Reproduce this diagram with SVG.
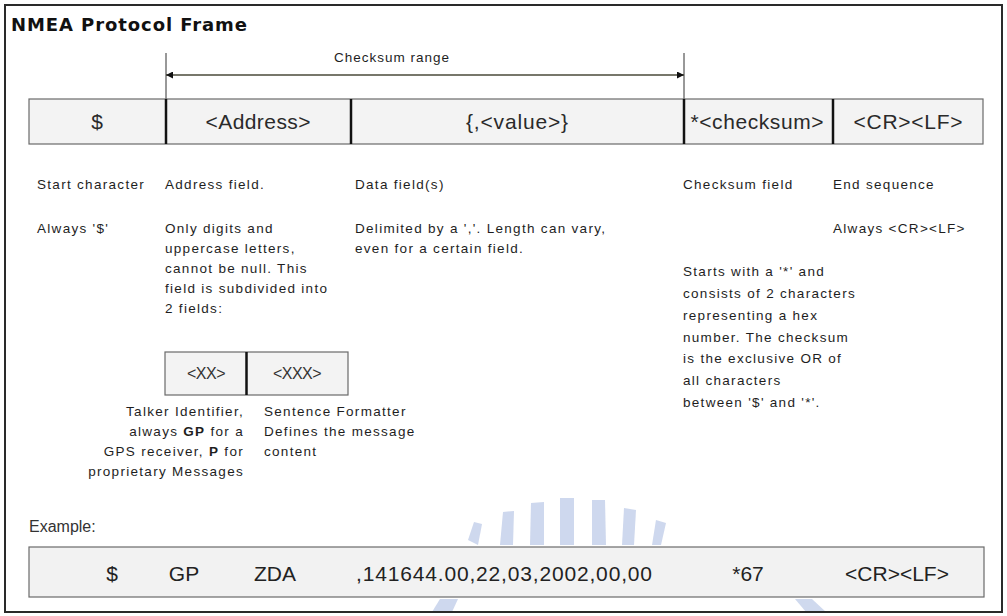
<svg xmlns="http://www.w3.org/2000/svg" width="1007" height="616" viewBox="0 0 1007 616">
  <defs>
    <style>
      .t { font-family: "Liberation Sans", Arial, sans-serif; fill: #1e1e1e; }
      .title { font-family: "DejaVu Sans", Verdana, sans-serif; font-size: 18px; font-weight: bold; fill: #111; }
      .cell { font-size: 21px; fill: #2a2a2a; }
      .desc { font-size: 13.5px; letter-spacing: 1.3px; }
      .ex { font-size: 21px; fill: #222; }
      .box { fill: #f3f3f3; stroke: #6a6a6a; stroke-width: 1.2; }
      .div { stroke: #111; stroke-width: 2.5; }
      .thin { stroke: #333; stroke-width: 1; fill: none; }
      .wm { fill: #c3cfea; }
    </style>
    <marker id="ah" viewBox="0 0 10 10" refX="10" refY="5" markerWidth="10" markerHeight="7" markerUnits="userSpaceOnUse" orient="auto-start-reverse">
      <path d="M0,0 L10,5 L0,10 z" fill="#111"/>
    </marker>
  </defs>

  <rect x="0" y="0" width="1007" height="616" fill="#ffffff"/>

  <!-- faint watermark -->
  <g id="watermark" opacity="0.8">
    <polygon class="wm" points="468,540 474,522 482,524 478,545"/>
    <polygon class="wm" points="500,545 503,512 514,511 513,545"/>
    <polygon class="wm" points="530,545 531,503 544,502 544,545"/>
    <polygon class="wm" points="560,545 560,498 574,498 574,545"/>
    <polygon class="wm" points="592,545 592,500 605,500 606,545"/>
    <polygon class="wm" points="622,545 624,508 636,510 634,545"/>
    <polygon class="wm" points="652,545 656,520 666,523 661,545"/>
    <polygon class="wm" points="440,599 458,599 452,612 432,612"/>
    <polygon class="wm" points="795,599 812,599 826,612 806,612"/>
  </g>

  <!-- outer frame -->
  <rect id="frame" x="5" y="5" width="997" height="607" fill="none" stroke="#2a2a2a" stroke-width="2"/>

  <g id="title">
    <text class="title" x="11" y="31" textLength="236">NMEA Protocol Frame</text>
  </g>

  <!-- connectors: checksum range -->
  <g id="connectors">
    <line class="thin" x1="166" y1="53" x2="166" y2="99"/>
    <line class="thin" x1="684" y1="53" x2="684" y2="99"/>
    <line x1="166" y1="75" x2="684" y2="75" stroke="#4a4a3a" stroke-width="1.6" marker-start="url(#ah)" marker-end="url(#ah)"/>
  </g>
  <g id="checksum-range-label">
    <text class="t desc" x="392" y="62" text-anchor="middle" style="letter-spacing:1px">Checksum range</text>
  </g>

  <!-- frame fields -->
  <g id="frame-row">
    <rect class="box" x="29" y="99" width="954" height="45"/>
    <line class="div" x1="166" y1="99" x2="166" y2="144"/>
    <line class="div" x1="351" y1="99" x2="351" y2="144"/>
    <line class="div" x1="684" y1="99" x2="684" y2="144"/>
    <line class="div" x1="833" y1="99" x2="833" y2="144"/>
  </g>
  <g id="field-start"><text class="t cell" x="97" y="129" text-anchor="middle">$</text></g>
  <g id="field-address"><text class="t cell" x="258" y="129" text-anchor="middle" textLength="105">&lt;Address&gt;</text></g>
  <g id="field-data"><text class="t cell" x="517" y="129" text-anchor="middle" textLength="102">{,&lt;value&gt;}</text></g>
  <g id="field-checksum"><text class="t cell" x="757" y="129" text-anchor="middle" textLength="133">*&lt;checksum&gt;</text></g>
  <g id="field-end"><text class="t cell" x="908" y="129" text-anchor="middle" textLength="109">&lt;CR&gt;&lt;LF&gt;</text></g>

  <!-- descriptions -->
  <g id="desc-start">
    <text class="t desc" x="37" y="189">Start character</text>
    <text class="t desc" x="37" y="233">Always '$'</text>
  </g>
  <g id="desc-address">
    <text class="t desc" x="165" y="189">Address field.</text>
    <text class="t desc" x="165" y="233">Only digits and</text>
    <text class="t desc" x="165" y="253">uppercase letters,</text>
    <text class="t desc" x="165" y="273">cannot be null. This</text>
    <text class="t desc" x="165" y="293">field is subdivided into</text>
    <text class="t desc" x="165" y="313">2 fields:</text>
  </g>
  <g id="desc-data">
    <text class="t desc" x="355" y="189">Data field(s)</text>
    <text class="t desc" x="355" y="233">Delimited by a ','. Length can vary,</text>
    <text class="t desc" x="355" y="253">even for a certain field.</text>
  </g>
  <g id="desc-checksum">
    <text class="t desc" x="683" y="189">Checksum field</text>
    <text class="t desc" x="683" y="276">Starts with a '*' and</text>
    <text class="t desc" x="683" y="298">consists of 2 characters</text>
    <text class="t desc" x="683" y="320">representing a hex</text>
    <text class="t desc" x="683" y="342">number. The checksum</text>
    <text class="t desc" x="683" y="363">is the exclusive OR of</text>
    <text class="t desc" x="683" y="385">all characters</text>
    <text class="t desc" x="683" y="407">between '$' and '*'.</text>
  </g>
  <g id="desc-end">
    <text class="t desc" x="833" y="189">End sequence</text>
    <text class="t desc" x="833" y="233">Always &lt;CR&gt;&lt;LF&gt;</text>
  </g>

  <!-- address subfields -->
  <g id="sub-fields">
    <rect class="box" x="165" y="352" width="183" height="43"/>
    <line class="div" x1="246.5" y1="352" x2="246.5" y2="395"/>
  </g>
  <g id="sub-xx"><text class="t" x="206" y="379" text-anchor="middle" style="font-size:16px;fill:#333;letter-spacing:-0.5px">&lt;XX&gt;</text></g>
  <g id="sub-xxx"><text class="t" x="297" y="379" text-anchor="middle" style="font-size:16px;fill:#333;letter-spacing:-0.5px">&lt;XXX&gt;</text></g>
  <g id="talker-desc">
    <text class="t desc" x="244" y="416" text-anchor="end">Talker Identifier,</text>
    <text class="t desc" x="244" y="436" text-anchor="end">always <tspan font-weight="bold">GP</tspan> for a</text>
    <text class="t desc" x="244" y="456" text-anchor="end">GPS receiver, <tspan font-weight="bold">P</tspan>  for</text>
    <text class="t desc" x="244" y="476" text-anchor="end">proprietary Messages</text>
  </g>
  <g id="formatter-desc">
    <text class="t desc" x="264" y="416">Sentence Formatter</text>
    <text class="t desc" x="264" y="436">Defines the message</text>
    <text class="t desc" x="264" y="456">content</text>
  </g>

  <!-- example -->
  <g id="example-label">
    <text class="t" x="29" y="532" style="font-size:16px;fill:#333">Example:</text>
  </g>
  <g id="example-row">
    <rect class="box" x="29" y="547" width="955" height="50" style="fill:#f2f2f2"/>
    <text class="t ex" x="112" y="581" text-anchor="middle">$</text>
    <text class="t ex" x="184" y="581" text-anchor="middle">GP</text>
    <text class="t ex" x="275" y="581" text-anchor="middle">ZDA</text>
    <text class="t ex" x="356" y="581" textLength="296">,141644.00,22,03,2002,00,00</text>
    <text class="t ex" x="748" y="581" text-anchor="middle">*67</text>
    <text class="t ex" x="897" y="581" text-anchor="middle">&lt;CR&gt;&lt;LF&gt;</text>
  </g>
</svg>
